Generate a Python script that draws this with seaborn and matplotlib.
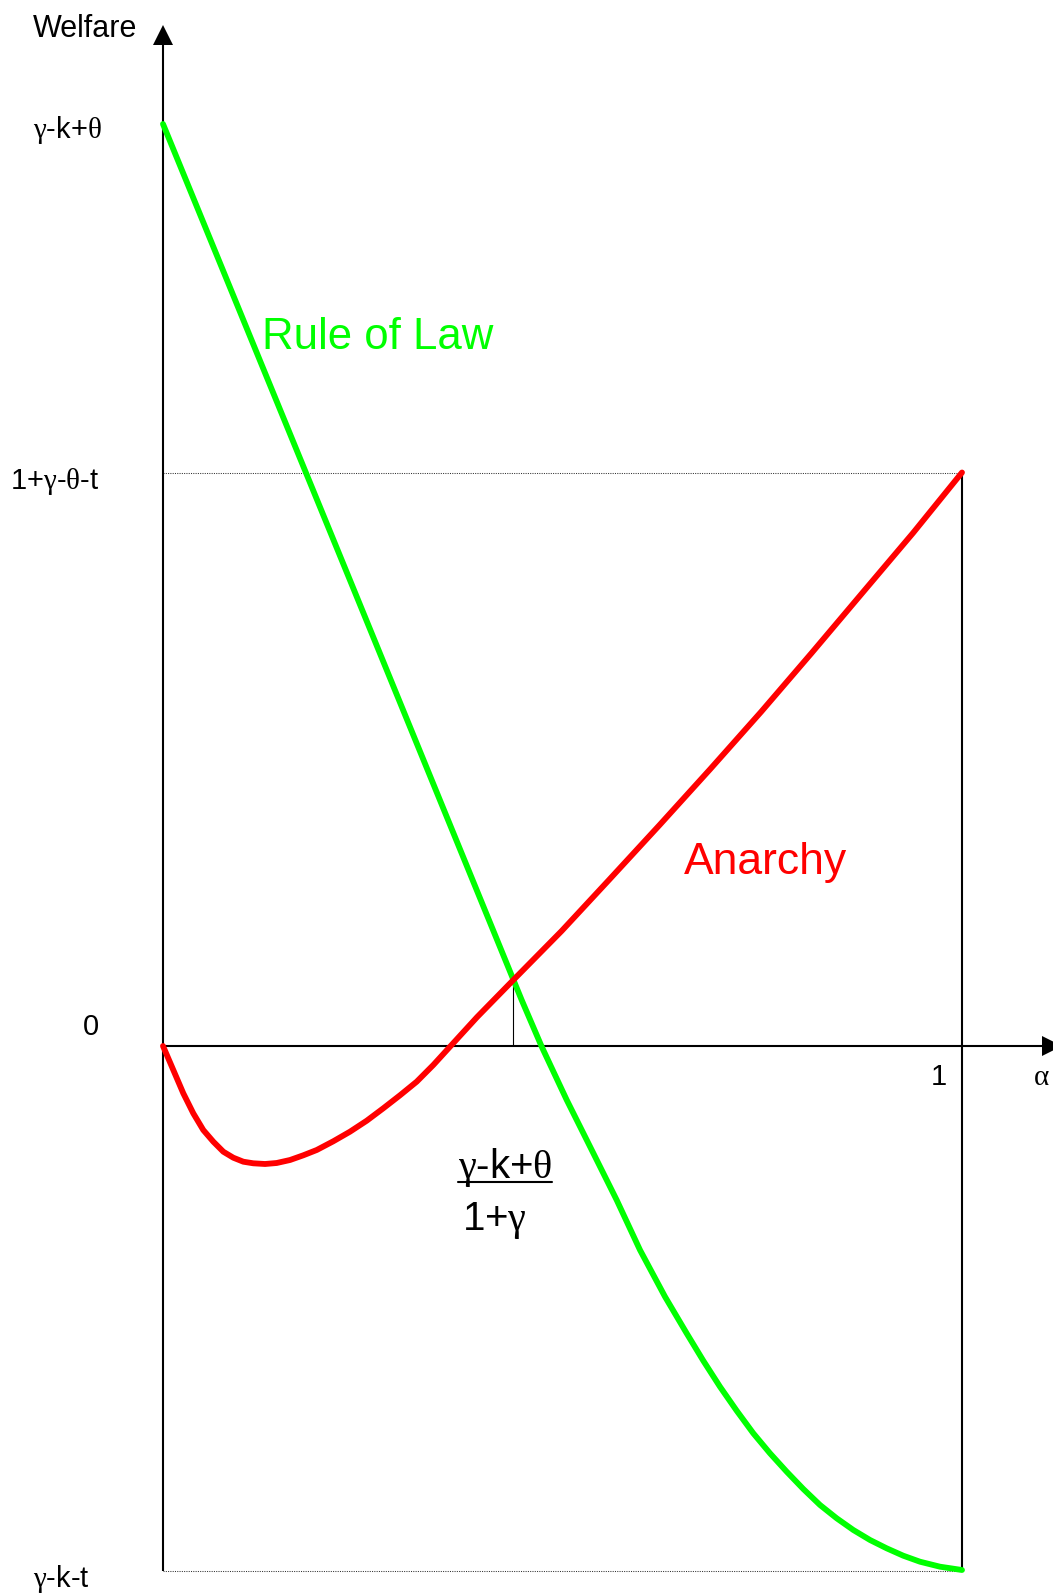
import matplotlib
matplotlib.use("Agg")

import matplotlib.pyplot as plt
import numpy as np
import pandas as pd
import seaborn as sns

# values (alpha in [0, 1], welfare in arbitrary units)
ALPHA_ROL = [0.0, 0.2365, 0.4489, 0.474, 0.5053, 0.5366, 0.5678, 0.597, 0.6283,
             0.6554, 0.6762, 0.6971, 0.718, 0.7388, 0.7597, 0.7806, 0.8014,
             0.8223, 0.8432, 0.864, 0.8849, 0.9057, 0.9265, 0.9474, 0.9725, 1.0]
WELFARE_ROL = [9.22, 4.61, 0.46, -0.007, -0.54, -1.04, -1.54, -2.04, -2.507,
               -2.873, -3.147, -3.407, -3.647, -3.873, -4.073, -4.257, -4.43,
               -4.59, -4.723, -4.84, -4.94, -5.023, -5.097, -5.157, -5.207, -5.24]

ALPHA_ANA = [0.0, 0.0129, 0.0254, 0.0379, 0.0504, 0.063, 0.0755, 0.088, 0.1005,
             0.113, 0.1277, 0.1423, 0.159, 0.1756, 0.1924, 0.2131, 0.234, 0.255,
             0.2757, 0.2966, 0.3175, 0.3383, 0.3592, 0.3932, 0.4397, 0.4989,
             0.5581, 0.6215, 0.685, 0.7484, 0.8118, 0.8752, 0.9387, 1.0]
WELFARE_ANA = [0.0, -0.24, -0.473, -0.673, -0.84, -0.957, -1.057, -1.117, -1.157,
               -1.173, -1.18, -1.17, -1.14, -1.093, -1.04, -0.953, -0.857, -0.747,
               -0.623, -0.493, -0.357, -0.19, -0.007, 0.29, 0.67, 1.15,
               1.66, 2.21, 2.77, 3.34, 3.93, 4.53, 5.13, 5.735]

TOP = 9.22          # gamma-k+theta
ANA_END = 5.735     # 1+gamma-theta-t
BOTTOM = -5.25      # gamma-k-t
ALPHA_CROSS = 0.438
WELFARE_CROSS = 0.67

GREEN = "#00ff00"
RED = "#ff0000"

sns.set_style("white")
plt.rcParams["font.family"] = ["Liberation Sans", "DejaVu Sans"]
plt.rcParams["text.color"] = "black"
plt.rcParams["mathtext.fontset"] = "custom"
plt.rcParams["mathtext.rm"] = "Liberation Serif"
plt.rcParams["mathtext.it"] = "Liberation Serif:italic"

df = pd.concat([
    pd.DataFrame({"alpha": ALPHA_ROL, "welfare": WELFARE_ROL, "regime": "Rule of Law"}),
    pd.DataFrame({"alpha": ALPHA_ANA, "welfare": WELFARE_ANA, "regime": "Anarchy"}),
])

fig = plt.figure(figsize=(10.53, 15.96), dpi=100)
ax = fig.add_axes([0, 0, 1, 1])
ax.set_xlim(-0.204, 1.1139)
ax.set_ylim(-5.50, 10.46)
ax.axis("off")

# reference lines
ax.plot([0, 1], [ANA_END, ANA_END], color="#333333", lw=0.75, ls=(0, (1, 1.2)))
ax.plot([0, 1], [BOTTOM, BOTTOM], color="#333333", lw=0.75, ls=(0, (1, 1.2)))
ax.plot([1, 1], [BOTTOM, ANA_END], color="black", lw=1.5)
ax.plot([ALPHA_CROSS, ALPHA_CROSS], [0, WELFARE_CROSS], color="black", lw=0.8)

# axes with arrow heads
ax.plot([0, 0], [BOTTOM, 10.1], color="black", lw=1.5, solid_capstyle="butt")
ax.plot([0, 1.11], [0, 0], color="black", lw=1.5, solid_capstyle="butt")
ax.plot([0], [10.115], marker="^", ms=14.4, color="black", mew=0, clip_on=False)
ax.plot([1.1126], [0], marker=">", ms=14.4, color="black", mew=0, clip_on=False)

sns.lineplot(data=df, x="alpha", y="welfare", hue="regime", sort=False,
             palette={"Rule of Law": GREEN, "Anarchy": RED}, lw=4.2,
             legend=False, ax=ax, estimator=None)
for line in ax.get_lines()[-2:]:
    line.set_solid_joinstyle("round")

# labels
side = dict(fontsize=21, va="baseline")
ax.text(-0.1627, 10.09, "Welfare", ha="left", fontsize=22, va="baseline")
ax.text(-0.1627, 9.08, r"$\mathrm{\gamma}$-k+$\mathrm{\theta}$", ha="left", **side)
ax.text(-0.1915, 5.57, r"1+$\mathrm{\gamma}$-$\mathrm{\theta}$-t", ha="left", **side)
ax.text(-0.0901, 0.11, "0", ha="center", **side)
ax.text(-0.1627, -5.41, r"$\mathrm{\gamma}$-k-t", ha="left", **side)
ax.text(0.981, -0.39, "1", ha="right", **side)
ax.text(1.089, -0.39, r"$\mathrm{\alpha}$", ha="left", **side)

num = ax.text(0.369, -1.32, r"$\mathrm{\gamma}$-k+$\mathrm{\theta}$", ha="left",
              va="baseline", fontsize=29)
ax.text(0.374, -1.84, r"1+$\mathrm{\gamma}$", ha="left", va="baseline", fontsize=29)

ax.text(0.124, 6.97, "Rule of Law", color=GREEN, fontsize=31.5, ha="left", va="baseline")
ax.text(0.652, 1.72, "Anarchy", color=RED, fontsize=32, ha="left", va="baseline")

# underline the numerator of the fraction
fig.canvas.draw()
bb = num.get_window_extent()
inv = ax.transData.inverted()
x0 = inv.transform((bb.x0, bb.y0))[0]
x1 = inv.transform((bb.x1, bb.y0))[0]
ax.plot([x0, x1], [-1.36, -1.36], color="black", lw=1.5)

fig.savefig("out.png", dpi=100)
